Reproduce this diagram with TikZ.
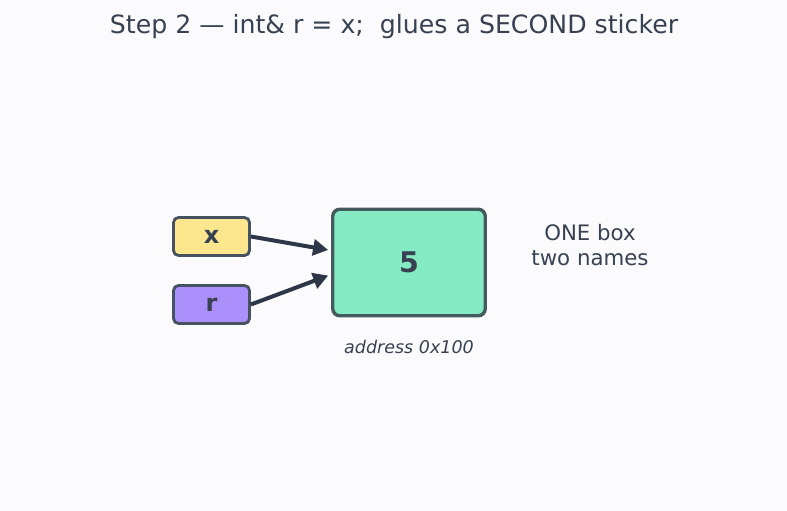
\documentclass[tikz,border=0pt]{standalone}
\usepackage{fontspec}
\setmainfont{DejaVu Sans}
\usetikzlibrary{arrows.meta}
\definecolor{bgcol}{HTML}{FBFBFE}
\definecolor{ink}{HTML}{374151}
\definecolor{edgecol}{HTML}{465262}
\definecolor{arrowcol}{HTML}{2D3748}
\definecolor{xfill}{HTML}{FCE78F}
\definecolor{rfill}{HTML}{AB8FFB}
\definecolor{cellfill}{HTML}{84EBC4}
\tikzset{%
  sticker/.style  = {shape=rectangle, rounded corners=5pt,%
                     draw=edgecol, line width=2.8pt, text=ink,%
                     minimum width=76pt, minimum height=38pt,%
                     font=\fontsize{24}{27}\selectfont\bfseries},%
  cellbox/.style  = {sticker, rounded corners=7pt, line width=3.4pt,%
                     draw=edgecol!95!green, fill=cellfill,%
                     minimum width=152.5pt, minimum height=106.5pt,%
                     font=\fontsize{28.5}{32}\selectfont\bfseries},%
  glue/.style     = {draw=arrowcol, line width=4pt, shorten >=3pt,%
                     -{Triangle[length=15pt,width=16pt]}},%
  note/.style     = {text=ink, align=center, font=\fontsize{21.3}{24.5}\selectfont}%
}
\begin{document}
\begin{tikzpicture}[x=1pt,y=-1pt]
	\fill[bgcol] (0,0) rectangle (787,511);
	\useasboundingbox (0,0) rectangle (787,511);
	\node[text=ink, font=\fontsize{25.2}{29}\selectfont] (title) at (394,26.5) {Step 2 --- int\& r = x; \ glues a SECOND sticker};
	\node[sticker, fill=xfill] (x) at (211.5,236.5) {x};
	\node[sticker, fill=rfill] (r) at (211.5,304.5) {r};
	\node[cellbox] (cell) at (409,262.5) {5};
	\node[text=ink, font=\fontsize{17.5}{20}\selectfont\itshape] (addr) at (409,347) {address 0x100};
	\node[note] (names) at (590,245) {ONE box\\two names};
	\draw[glue] (x.east) -- ([yshift=12pt]cell.west);
	\draw[glue] (r.east) -- ([yshift=-12pt]cell.west);
\end{tikzpicture}
\end{document}
